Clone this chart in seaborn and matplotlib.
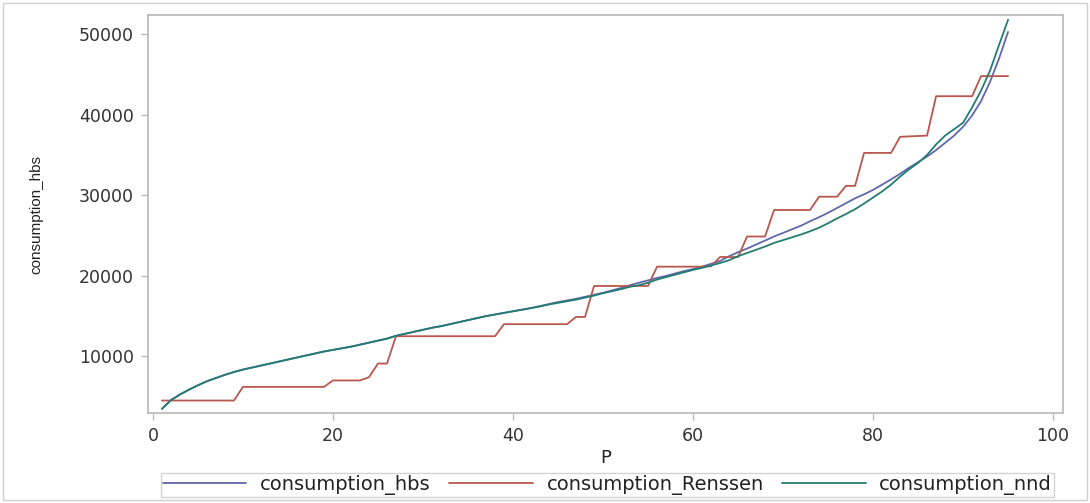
import numpy as np
import pandas as pd
import matplotlib
matplotlib.use("Agg")
import matplotlib.pyplot as plt
import seaborn as sns
from matplotlib.patches import Rectangle
from matplotlib.lines import Line2D
from matplotlib import font_manager

# ---- data ----
P = list(range(1, 96))

consumption_hbs = [
    3420, 4500, 5200, 5800, 6350, 6850, 7250, 7650, 8000, 8300,
    8550, 8800, 9050, 9300, 9550, 9800, 10050, 10300, 10550, 10750,
    10950, 11150, 11400, 11650, 11900, 12150, 12500, 12750, 13000, 13250,
    13500, 13700, 13950, 14200, 14450, 14700, 14950, 15150, 15350, 15550,
    15750, 15950, 16200, 16450, 16700, 16900, 17100, 17350, 17600, 17850,
    18150, 18450, 18800, 19100, 19400, 19700, 19950, 20250, 20550, 20800,
    21100, 21450, 21800, 22400, 22900, 23350, 23850, 24350, 24850, 25300,
    25750, 26200, 26750, 27250, 27800, 28400, 29000, 29600, 30100, 30650,
    31300, 31950, 32650, 33400, 34100, 34800, 35600, 36500, 37400, 38500,
    39900, 41700, 44100, 47000, 50300,
]

consumption_Renssen = [
    4450, 4450, 4450, 4450, 4450, 4450, 4450, 4450, 4450, 6150,
    6150, 6150, 6150, 6150, 6150, 6150, 6150, 6150, 6150, 6950,
    6950, 6950, 6950, 7350, 9050, 9050, 12450, 12450, 12450, 12450,
    12450, 12450, 12450, 12450, 12450, 12450, 12450, 12450, 13950, 13950,
    13950, 13950, 13950, 13950, 13950, 13950, 14850, 14850, 18700, 18700,
    18700, 18700, 18700, 18700, 18700, 21100, 21100, 21100, 21100, 21100,
    21100, 21150, 22300, 22300, 22300, 24850, 24850, 24850, 28150, 28150,
    28150, 28150, 28150, 29800, 29800, 29800, 31150, 31150, 35250, 35250,
    35250, 35250, 37250, 37300, 37350, 37400, 42300, 42300, 42300, 42300,
    42300, 44800, 44800, 44800, 44800,
]

consumption_nnd = [
    3420, 4500, 5200, 5800, 6350, 6850, 7250, 7650, 8000, 8300,
    8550, 8800, 9050, 9300, 9550, 9800, 10050, 10300, 10550, 10750,
    10950, 11150, 11400, 11650, 11900, 12150, 12500, 12750, 13000, 13250,
    13500, 13700, 13950, 14200, 14450, 14700, 14950, 15150, 15350, 15550,
    15750, 15950, 16150, 16400, 16600, 16800, 17000, 17250, 17500, 17800,
    18050, 18300, 18600, 18800, 19100, 19500, 19800, 20100, 20400, 20700,
    20950, 21250, 21550, 21900, 22400, 22800, 23200, 23600, 24050, 24400,
    24750, 25100, 25500, 25950, 26500, 27100, 27650, 28250, 28950, 29700,
    30450, 31300, 32300, 33200, 34000, 35000, 36300, 37400, 38200, 39000,
    40900, 43000, 45500, 48700, 51800,
]

series_names = ["consumption_hbs", "consumption_Renssen", "consumption_nnd"]
colors = ["#6068AC", "#B8574D", "#237C72"]

df = pd.concat([
    pd.DataFrame({"P": P, "value": consumption_hbs, "series": series_names[0]}),
    pd.DataFrame({"P": P, "value": consumption_Renssen, "series": series_names[1]}),
    pd.DataFrame({"P": P, "value": consumption_nnd, "series": series_names[2]}),
])

sns.set_theme(style="white")
plt.rcParams["font.family"] = ["DejaVu Sans"]

W, H = 1090, 503
fig = plt.figure(figsize=(W / 100, H / 100), dpi=100)
ax = fig.add_axes([148 / W, 1 - 413 / H, (1063 - 148) / W, (413 - 15) / H])

sns.lineplot(data=df, x="P", y="value", hue="series", palette=colors,
             hue_order=series_names, linewidth=1.3, ax=ax, legend=False)

ax.set_xlim(-0.55, 101.1)
ax.set_ylim(2900, 52400)
ax.set_xticks([0, 20, 40, 60, 80, 100])
ax.set_yticks([10000, 20000, 30000, 40000, 50000])

for s in ax.spines.values():
    s.set_color("#B8B8B8")
    s.set_linewidth(1.2)

ax.tick_params(axis="both", which="both", direction="out", length=5, width=1,
               color="#B8B8B8", labelcolor="#333333", labelsize=12.5, pad=5,
               bottom=True, left=True)

ax.set_xlabel("P", fontsize=13, color="#222222", labelpad=3)

try:
    font_manager.findfont("Liberation Sans Narrow", fallback_to_default=False)
    ylab_family, ylab_size = ["Liberation Sans Narrow", "DejaVu Sans"], 12.5
except Exception:
    ylab_family, ylab_size = ["Liberation Sans", "DejaVu Sans"], 11
ax.set_ylabel("consumption_hbs", fontsize=ylab_size, color="#222222",
              labelpad=26, family=ylab_family)

# legend
handles = [Line2D([], [], color=c, linewidth=1.3) for c in colors]
leg = fig.legend(handles, series_names, loc="center", ncol=3,
                 bbox_to_anchor=(607.5 / W, 1 - 485 / H),
                 fontsize=14, frameon=True, fancybox=False,
                 handlelength=4.3, handletextpad=0.7, columnspacing=0.95,
                 borderpad=0.1, borderaxespad=0)
leg.get_frame().set_edgecolor("#C8C8C8")
leg.get_frame().set_linewidth(1.0)
for t in leg.get_texts():
    t.set_color("#222222")

# outer border of the image
fig.patches.append(Rectangle((3 / W, 3 / H), 1 - 6 / W, 1 - 6 / H,
                             transform=fig.transFigure, fill=False,
                             edgecolor="#CFCFCF", linewidth=1.0))

fig.savefig("out.png", dpi=100)
